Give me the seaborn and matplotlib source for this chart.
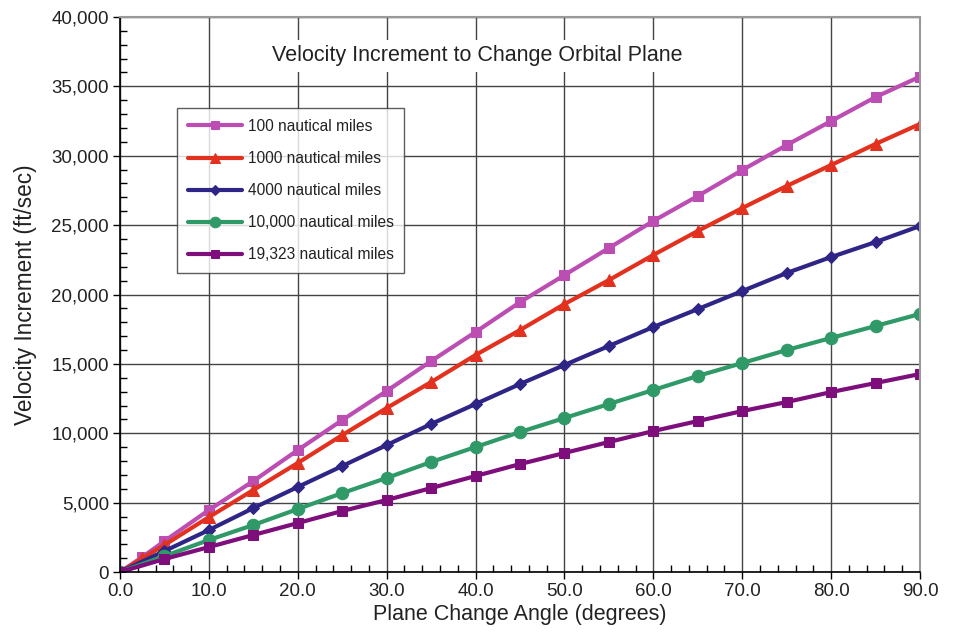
import pandas as pd
import seaborn as sns
import matplotlib.pyplot as plt
from matplotlib.ticker import MultipleLocator, FuncFormatter

# plane change angle (degrees)
angles = [0, 5, 10, 15, 20, 25, 30, 35, 40, 45, 50, 55, 60, 65, 70, 75, 80, 85, 90]
angles_low = [0, 2.5, 5, 10, 15, 20, 25, 30, 35, 40, 45, 50, 55, 60, 65, 70, 75, 80, 85, 90]

# velocity increment (ft/sec)
v_100 = [0, 1080, 2230, 4470, 6560, 8790, 10950, 13050, 15200, 17300, 19450,
         21400, 23350, 25300, 27100, 28970, 30770, 32500, 34230, 35700]
v_1000 = [0, 980, 1950, 3960, 5910, 7860, 9870, 11820, 13690, 15640, 17440,
          19310, 21040, 22850, 24580, 26230, 27820, 29330, 30850, 32290]
v_4000 = [0, 1510, 3030, 4610, 6130, 7640, 9150, 10670, 12110, 13550,
          14920, 16290, 17660, 18950, 20250, 21550, 22700, 23780, 24940]
v_10000 = [0, 1150, 2310, 3390, 4540, 5690, 6780, 7930, 9010, 10090,
           11100, 12110, 13120, 14130, 15060, 16000, 16870, 17730, 18600]
v_19323 = [0, 940, 1800, 2670, 3530, 4400, 5190, 6050, 6920, 7780,
           8580, 9370, 10160, 10880, 11600, 12250, 12970, 13620, 14270]

labels = ["100 nautical miles", "1000 nautical miles", "4000 nautical miles",
          "10,000 nautical miles", "19,323 nautical miles"]
colors = ["#BB4DB3", "#E2321F", "#2F2586", "#2F9A68", "#7D0E7B"]
markers = ["s", "^", "D", "o", "s"]
msizes = [7.5, 9, 6.5, 9, 7.5]

series = [(angles_low, v_100), (angles_low, v_1000), (angles, v_4000),
          (angles, v_10000), (angles, v_19323)]

sns.set_style("white")
plt.rcParams['font.family'] = ['Liberation Sans', 'DejaVu Sans']
plt.rcParams['text.color'] = '#222222'

fig = plt.figure(figsize=(9.55, 6.38), dpi=100)
ax = fig.add_axes([0.1257, 0.1034, 0.8377, 0.8700])

for (x, y), lab, c, m, ms in zip(series, labels, colors, markers, msizes):
    df = pd.DataFrame({"angle": x, "dv": y})
    sns.lineplot(data=df, x="angle", y="dv", ax=ax, color=c, marker=m,
                 markersize=ms, markeredgecolor=c, linewidth=3, label=lab)

ax.set_xlim(0, 90)
ax.set_ylim(0, 40000)
ax.xaxis.set_major_locator(MultipleLocator(10))
ax.xaxis.set_minor_locator(MultipleLocator(2))
ax.yaxis.set_major_locator(MultipleLocator(5000))
ax.yaxis.set_minor_locator(MultipleLocator(1000))
ax.xaxis.set_major_formatter(FuncFormatter(lambda v, p: f"{v:.1f}"))
ax.yaxis.set_major_formatter(FuncFormatter(lambda v, p: f"{int(v):,}"))
ax.tick_params(axis="both", which="major", direction="out", length=5,
               width=1, color="black", labelsize=13.5, labelcolor="#222222",
               pad=3, bottom=True, left=True)
ax.tick_params(axis="both", which="minor", direction="in", length=5,
               width=1, color="black", bottom=True, left=True)
ax.grid(True, which="major", color="#444444", linewidth=1)
ax.set_axisbelow(True)

for side in ["top", "right"]:
    ax.spines[side].set_color("#999999")
    ax.spines[side].set_linewidth(1.5)
for side in ["left", "bottom"]:
    ax.spines[side].set_color("black")
    ax.spines[side].set_linewidth(1.2)

ax.set_xlabel("Plane Change Angle (degrees)", fontsize=15.5, labelpad=3,
              color="#222222")
ax.set_ylabel("Velocity Increment (ft/sec)", fontsize=16.3, labelpad=10,
              color="#222222")
ax.text(40.2, 37200, "Velocity Increment to Change Orbital Plane", ha="center",
        va="center", fontsize=15.5,
        bbox=dict(facecolor="white", edgecolor="none", pad=4))

leg = ax.legend(loc="upper left", bbox_to_anchor=(0.071, 0.836), fontsize=11.2,
                handlelength=3.5, handletextpad=0.35, labelspacing=1.1,
                borderpad=0.7, borderaxespad=0, frameon=True, fancybox=False,
                edgecolor="#333333")
leg.get_frame().set_linewidth(1)
for h, ms in zip(leg.legend_handles, msizes):
    h.set_markersize(ms * 0.85)
    h.set_linewidth(3)

fig.savefig("out.png", dpi=100)
